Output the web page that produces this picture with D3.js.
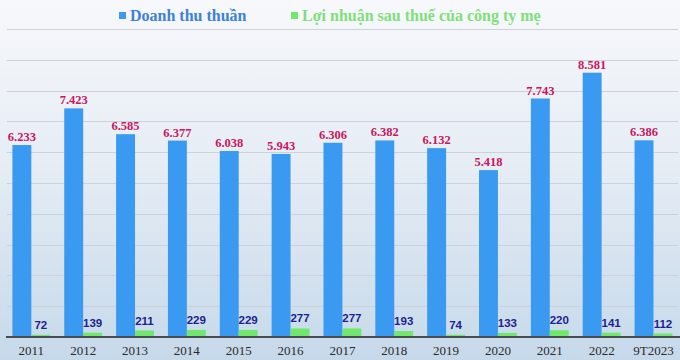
<!DOCTYPE html>
<html>
<head>
<meta charset="utf-8">
<script src="https://cdn.jsdelivr.net/npm/d3@7"></script>
<style>
  body { margin: 0; }
  svg { display: block; }
</style>
</head>
<body>
<div id="container"></div>
<script>
// data
const years = ["2011", "2012", "2013", "2014", "2015", "2016", "2017", "2018", "2019", "2020", "2021", "2022", "9T2023"];
const revenue = [6233, 7423, 6585, 6377, 6038, 5943, 6306, 6382, 6132, 5418, 7743, 8581, 6386];
const profit = [72, 139, 211, 229, 229, 277, 277, 193, 74, 133, 220, 141, 112];
const revenueLabels = ["6.233", "7.423", "6.585", "6.377", "6.038", "5.943", "6.306", "6.382", "6.132", "5.418", "7.743", "8.581", "6.386"];
const yTicks = [1000, 2000, 3000, 4000, 5000, 6000, 7000, 8000, 9000, 10000];
const seriesNames = ["Doanh thu thuần", "Lợi nhuận sau thuế của công ty mẹ"];

const width = 680, height = 360;
const blue = "#3a9af2", green = "#6fe86c";

const svg = d3.select("#container").append("svg")
    .attr("width", width).attr("height", height);

// background gradient
const grad = svg.append("defs").append("linearGradient")
    .attr("id", "bg").attr("x1", 0).attr("y1", 0).attr("x2", 0).attr("y2", 1);
grad.append("stop").attr("offset", "0%").attr("stop-color", "#f7f8fb");
grad.append("stop").attr("offset", "45%").attr("stop-color", "#e6edf5");
grad.append("stop").attr("offset", "100%").attr("stop-color", "#c6d9ea");
svg.append("rect").attr("width", width).attr("height", height).attr("fill", "url(#bg)");

const x = d3.scaleBand().domain(years).range([5.4, 679.4]).paddingInner(0.27).paddingOuter(0.135);
const xs = d3.scaleBand().domain([0, 1]).range([0, x.bandwidth()]);
const y = d3.scaleLinear().domain([0, 10000]).range([337, 29]);

// gridlines
svg.append("g").selectAll("line")
    .data(yTicks)
    .join("line")
    .attr("x1", 7).attr("x2", 678)
    .attr("y1", d => Math.round(y(d)) + 0.5).attr("y2", d => Math.round(y(d)) + 0.5)
    .attr("stroke", "#cdd2da").attr("stroke-width", 1);

// revenue bars
svg.append("g").selectAll("rect")
    .data(revenue)
    .join("rect")
    .attr("x", (d, i) => x(years[i]) + xs(0))
    .attr("y", d => y(d))
    .attr("width", xs.bandwidth())
    .attr("height", d => y(0) - y(d))
    .attr("fill", blue);

// profit bars
svg.append("g").selectAll("rect")
    .data(profit)
    .join("rect")
    .attr("x", (d, i) => x(years[i]) + xs(1))
    .attr("y", d => y(d))
    .attr("width", xs.bandwidth())
    .attr("height", d => y(0) - y(d))
    .attr("fill", green);

// revenue labels
svg.append("g").selectAll("text")
    .data(revenue)
    .join("text")
    .attr("x", (d, i) => x(years[i]) + xs(0) + xs.bandwidth() / 2)
    .attr("y", d => y(d) - 4)
    .attr("text-anchor", "middle")
    .attr("font-family", "Liberation Serif, serif")
    .attr("font-weight", "bold")
    .attr("font-size", 12.5)
    .attr("fill", "#c8175e")
    .text((d, i) => revenueLabels[i]);

// profit labels
svg.append("g").selectAll("text")
    .data(profit)
    .join("text")
    .attr("x", (d, i) => x(years[i]) + xs(1) + xs.bandwidth() / 2)
    .attr("y", d => y(d) - 6)
    .attr("text-anchor", "middle")
    .attr("font-family", "Liberation Sans, sans-serif")
    .attr("font-weight", "bold")
    .attr("font-size", 11.5)
    .attr("fill", "#1c1f8f")
    .text(d => d);

// baseline
svg.append("line")
    .attr("x1", 6).attr("x2", 680)
    .attr("y1", y(0)).attr("y2", y(0))
    .attr("stroke", "#474a50").attr("stroke-width", 2);

// x axis labels
const xAxis = svg.append("g")
    .attr("transform", `translate(0,${y(0)})`)
    .call(d3.axisBottom(x).tickSize(0).tickPadding(9));
xAxis.select(".domain").remove();
xAxis.selectAll("text")
    .attr("font-family", "Liberation Serif, serif")
    .attr("font-size", 13)
    .attr("fill", "#2a2a2a");

// legend
const legend = svg.append("g").attr("font-family", "Liberation Serif, serif")
    .attr("font-weight", "bold").attr("font-size", 16);
const legendPos = [119, 291];
const legendColors = ["#3b82d6", "#7fe07a"];
seriesNames.forEach((name, i) => {
    legend.append("rect")
        .attr("x", legendPos[i]).attr("y", 12)
        .attr("width", 7).attr("height", 7)
        .attr("fill", i === 0 ? blue : green);
    legend.append("text")
        .attr("x", legendPos[i] + 11).attr("y", 21)
        .attr("fill", legendColors[i])
        .text(name);
});
</script>
</body>
</html>
